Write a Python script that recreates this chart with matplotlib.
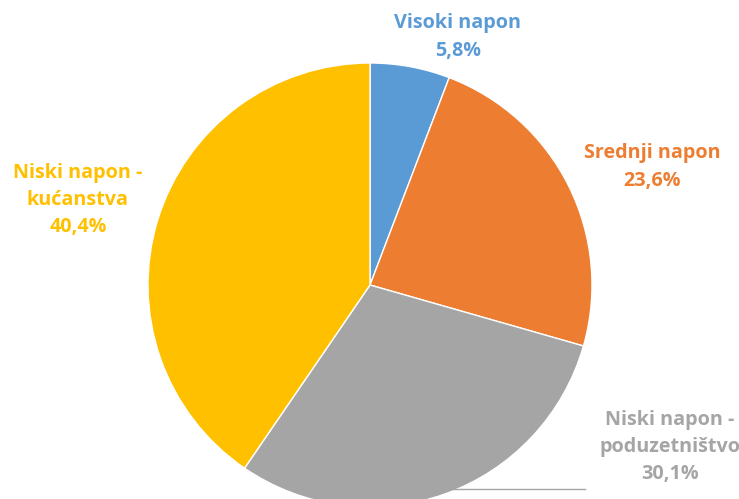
import matplotlib.pyplot as plt

labels = ['Visoki napon', 'Srednji napon', 'Niski napon -\npoduzetništvo', 'Niski napon -\nkućanstva']
shares = [5.8, 23.6, 30.1, 40.4]
colors = ['#5B9BD5', '#ED7D31', '#A5A5A5', '#FFC000']

# label centres in pixel coords (x, y from top)
label_pos = [(458, 37), (652, 167), (670, 447), (78, 200)]

plt.rcParams['font.family'] = ['Open Sans', 'DejaVu Sans']

fig = plt.figure(figsize=(7.39, 4.99), dpi=100)
ax = fig.add_axes([0, 0, 1, 1])
ax.axis('off')

ax.pie(shares, colors=colors, startangle=90, counterclock=False,
       center=(370, 499 - 285), radius=222,
       wedgeprops=dict(edgecolor='white', linewidth=1))
ax.set_xlim(0, 739)
ax.set_ylim(0, 499)
ax.set_aspect('equal')

for lab, val, c, (x, y) in zip(labels, shares, colors, label_pos):
    txt = lab + '\n' + ('%.1f%%' % val).replace('.', ',')
    ax.text(x, 499 - y, txt, color=c, fontsize=14.2, fontweight='bold',
            ha='center', va='center', linespacing=1.48)

# leader line for the bottom label
ax.plot([445, 585], [10, 10], color='#A5A5A5', lw=1)

fig.savefig('out.png', dpi=100)
